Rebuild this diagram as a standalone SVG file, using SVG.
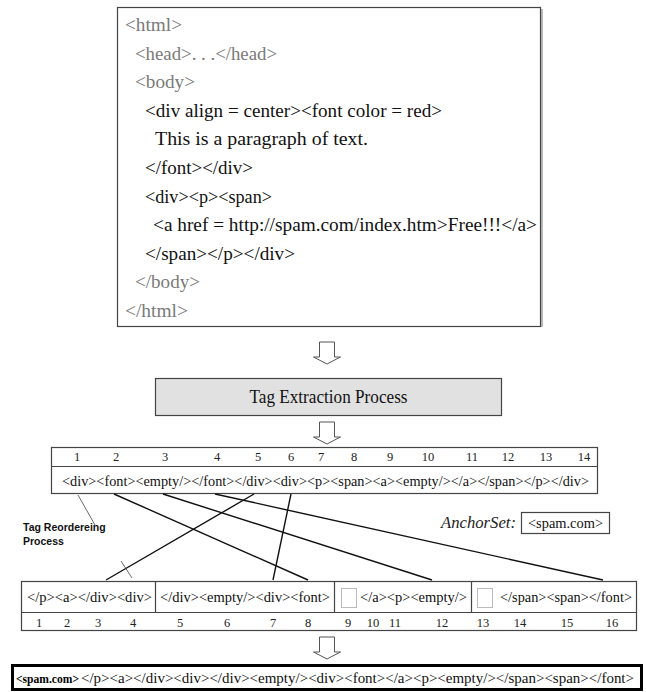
<svg xmlns="http://www.w3.org/2000/svg" width="646" height="692" viewBox="0 0 646 692">
<style>
 .serif{font-family:"Liberation Serif","Times New Roman",serif}
 .code{font-size:19.5px;fill:#111}
 .gray{fill:#7a7a7a}
 .box{fill:#fff;stroke:#444;stroke-width:1.2}
 .num{font-size:12.5px;fill:#222;text-anchor:middle}
 .cell{font-size:14.4px;fill:#111}
 .conn{stroke:#111;stroke-width:1.4;fill:none}
 .thin{stroke:#444;stroke-width:0.8;fill:none}
 .arrow{fill:#fff;stroke:#555;stroke-width:1}
 .ph{fill:#fff;stroke:#bbb;stroke-width:1}
</style>
<defs>
 <path id="darr" d="M-7.5,0 H7.5 V15 H13.5 L0,22 L-13.5,15 H-7.5 Z"/>
</defs>
<rect width="646" height="692" fill="#fff"/>

<g id="html-source" class="serif">
 <line x1="542" y1="9" x2="542" y2="327" stroke="#bbb" stroke-width="2"/>
 <rect class="box" x="117.5" y="7.5" width="423" height="319" stroke="#555"/>
 <text class="code gray" x="125" y="31" textLength="57" lengthAdjust="spacingAndGlyphs">&lt;html&gt;</text>
 <text class="code gray" x="135" y="59.6" textLength="142" lengthAdjust="spacingAndGlyphs">&lt;head&gt;. . .&lt;/head&gt;</text>
 <text class="code gray" x="135" y="88.2" textLength="60" lengthAdjust="spacingAndGlyphs">&lt;body&gt;</text>
 <text class="code" x="145" y="116.8" textLength="297" lengthAdjust="spacingAndGlyphs">&lt;div align = center&gt;&lt;font color = red&gt;</text>
 <text class="code" x="155" y="145.4" textLength="213" lengthAdjust="spacingAndGlyphs">This is a paragraph of text.</text>
 <text class="code" x="145" y="174" textLength="108" lengthAdjust="spacingAndGlyphs">&lt;/font&gt;&lt;/div&gt;</text>
 <text class="code" x="145" y="202.6" textLength="127" lengthAdjust="spacingAndGlyphs">&lt;div&gt;&lt;p&gt;&lt;span&gt;</text>
 <text class="code" x="153" y="231.2" textLength="384" lengthAdjust="spacingAndGlyphs">&lt;a href = http://spam.com/index.htm&gt;Free!!!&lt;/a&gt;</text>
 <text class="code" x="145" y="259.8" textLength="150" lengthAdjust="spacingAndGlyphs">&lt;/span&gt;&lt;/p&gt;&lt;/div&gt;</text>
 <text class="code gray" x="135" y="288.4" textLength="65" lengthAdjust="spacingAndGlyphs">&lt;/body&gt;</text>
 <text class="code gray" x="125" y="317" textLength="63" lengthAdjust="spacingAndGlyphs">&lt;/html&gt;</text>
</g>

<g id="tag-extraction" class="serif">
 <rect x="155.5" y="378.5" width="346" height="37" fill="#e1e1e1" stroke="#444" stroke-width="1.2"/>
 <text x="328.5" y="403" font-size="18" fill="#111" text-anchor="middle" textLength="158" lengthAdjust="spacingAndGlyphs">Tag Extraction Process</text>
</g>

<g id="tag-sequence" class="serif">
 <rect class="box" x="51.5" y="447.5" width="546" height="46"/>
 <line x1="51.5" y1="466.5" x2="597.5" y2="466.5" stroke="#444" stroke-width="1.2"/>
 <text class="num" y="461"><tspan x="77">1</tspan><tspan x="116">2</tspan><tspan x="165">3</tspan><tspan x="217">4</tspan><tspan x="258">5</tspan><tspan x="291">6</tspan><tspan x="321">7</tspan><tspan x="354">8</tspan><tspan x="390">9</tspan><tspan x="428">10</tspan><tspan x="472">11</tspan><tspan x="508">12</tspan><tspan x="546">13</tspan><tspan x="584">14</tspan></text>
 <text class="cell" x="62" y="486" textLength="527" lengthAdjust="spacingAndGlyphs">&lt;div&gt;&lt;font&gt;&lt;empty/&gt;&lt;/font&gt;&lt;/div&gt;&lt;div&gt;&lt;p&gt;&lt;span&gt;&lt;a&gt;&lt;empty/&gt;&lt;/a&gt;&lt;/span&gt;&lt;/p&gt;&lt;/div&gt;</text>
</g>

<g id="reorder-label" font-family="'Liberation Sans',Arial,sans-serif" font-weight="bold" font-size="10.5" fill="#111">
 <text x="23" y="531">Tag Reordereing</text>
 <text x="23" y="545">Process</text>
</g>

<g id="anchor-set" class="serif">
 <text x="441" y="528" font-size="17" font-style="italic" fill="#222" textLength="75" lengthAdjust="spacingAndGlyphs">AnchorSet:</text>
 <rect class="box" x="521.5" y="512.5" width="88" height="21"/>
 <text x="528" y="528" font-size="14.4" fill="#111" textLength="75" lengthAdjust="spacingAndGlyphs">&lt;spam.com&gt;</text>
</g>

<g id="reordered-sequence" class="serif">
 <rect class="box" x="21.5" y="581.5" width="615" height="49"/>
 <line x1="21.5" y1="612.5" x2="636.5" y2="612.5" stroke="#444" stroke-width="1.2"/>
 <line x1="155.5" y1="581.5" x2="155.5" y2="612.5" stroke="#444" stroke-width="1.2"/>
 <line x1="334.5" y1="581.5" x2="334.5" y2="612.5" stroke="#444" stroke-width="1.2"/>
 <line x1="471.5" y1="581.5" x2="471.5" y2="612.5" stroke="#444" stroke-width="1.2"/>
 <text class="cell" x="27" y="602" textLength="125" lengthAdjust="spacingAndGlyphs">&lt;/p&gt;&lt;a&gt;&lt;/div&gt;&lt;div&gt;</text>
 <text class="cell" x="160" y="602" textLength="170" lengthAdjust="spacingAndGlyphs">&lt;/div&gt;&lt;empty/&gt;&lt;div&gt;&lt;font&gt;</text>
 <rect class="ph" x="341.5" y="588.5" width="15" height="19"/>
 <text class="cell" x="360" y="602" textLength="107" lengthAdjust="spacingAndGlyphs">&lt;/a&gt;&lt;p&gt;&lt;empty/&gt;</text>
 <rect class="ph" x="477.5" y="588.5" width="15" height="19"/>
 <text class="cell" x="500" y="602" textLength="132" lengthAdjust="spacingAndGlyphs">&lt;/span&gt;&lt;span&gt;&lt;/font&gt;</text>
 <text class="num" y="627"><tspan x="39">1</tspan><tspan x="67">2</tspan><tspan x="98">3</tspan><tspan x="133">4</tspan><tspan x="180">5</tspan><tspan x="227">6</tspan><tspan x="273">7</tspan><tspan x="308">8</tspan><tspan x="348">9</tspan><tspan x="373">10</tspan><tspan x="395">11</tspan><tspan x="442">12</tspan><tspan x="483">13</tspan><tspan x="520">14</tspan><tspan x="567">15</tspan><tspan x="612">16</tspan></text>
</g>

<g id="result" class="serif">
 <rect x="12.5" y="665.5" width="629" height="24" fill="#fff" stroke="#000" stroke-width="3"/>
 <text x="16" y="683" font-size="12" font-weight="bold" fill="#000" textLength="63" lengthAdjust="spacingAndGlyphs">&lt;spam.com&gt;</text>
 <text class="cell" x="81" y="683" font-size="15" textLength="553" lengthAdjust="spacingAndGlyphs">&lt;/p&gt;&lt;a&gt;&lt;/div&gt;&lt;div&gt;&lt;/div&gt;&lt;empty/&gt;&lt;div&gt;&lt;font&gt;&lt;/a&gt;&lt;p&gt;&lt;empty/&gt;&lt;/span&gt;&lt;span&gt;&lt;/font&gt;</text>
</g>

<g id="connectors">
 <use href="#darr" class="arrow" x="327" y="342"/>
 <use href="#darr" class="arrow" x="327" y="422"/>
 <use href="#darr" class="arrow" x="327" y="637"/>
 <line class="thin" x1="78" y1="495" x2="95" y2="525"/>
 <line class="conn" x1="114" y1="494" x2="308" y2="580"/>
 <line class="conn" x1="163" y1="494" x2="432" y2="580"/>
 <line class="conn" x1="215" y1="494" x2="603" y2="580"/>
 <line class="conn" x1="254" y1="494" x2="106" y2="580"/>
 <line class="conn" x1="291" y1="494" x2="273" y2="580"/>
 <line class="thin" x1="121" y1="561" x2="132" y2="578"/>
</g>
</svg>
